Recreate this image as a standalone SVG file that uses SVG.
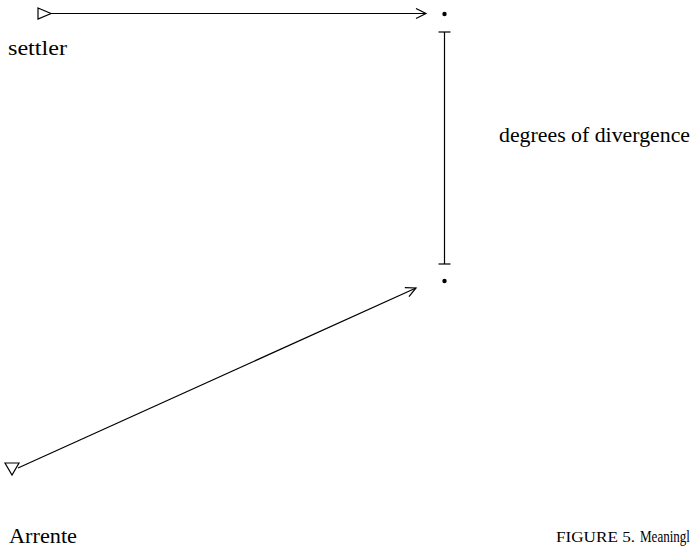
<svg xmlns="http://www.w3.org/2000/svg" width="695" height="549" viewBox="0 0 695 549">
<defs>
<style>
.ln{stroke:#000;stroke-width:1.2;fill:none}
.tri{stroke:#000;stroke-width:1.2;fill:#fff}
.t{font-family:"Liberation Serif","DejaVu Serif",serif;font-size:22px;fill:#000}
.sc{font-size:15px}
.cap{font-size:17px}
</style>
<marker id="arr" markerWidth="14" markerHeight="14" refX="11" refY="6" orient="auto" markerUnits="userSpaceOnUse">
<path d="M1,1 L11,6 L1,11" fill="none" stroke="#000" stroke-width="1.2"/>
</marker>
</defs>
<rect width="695" height="549" fill="#fff"/>
<g id="connectors">
<line class="ln" x1="51" y1="13.5" x2="426" y2="13.5" marker-end="url(#arr)"/>
<line class="ln" x1="18" y1="468" x2="416" y2="288" marker-end="url(#arr)"/>
<line class="ln" x1="444.5" y1="32" x2="444.5" y2="264"/>
<line class="ln" x1="438.5" y1="32" x2="450.5" y2="32"/>
<line class="ln" x1="438.5" y1="264" x2="450.5" y2="264"/>
</g>
<g id="settler">
<polygon class="tri" points="38,8 51,13.5 38,19"/>
<text class="t" x="8" y="55" textLength="59" lengthAdjust="spacingAndGlyphs">settler</text>
</g>
<g id="arrente">
<polygon class="tri" points="5,463 19,463 12,475"/>
<text class="t" x="9" y="543" textLength="68" lengthAdjust="spacingAndGlyphs">Arrente</text>
</g>
<g id="top-point"><circle cx="444.5" cy="14" r="2.2" fill="#000"/></g>
<g id="bottom-point"><circle cx="444.5" cy="281" r="2.2" fill="#000"/></g>
<g id="divergence"><text class="t" x="499" y="142" textLength="191" lengthAdjust="spacingAndGlyphs">degrees of divergence</text></g>
<g id="caption"><text class="t" y="542"><tspan class="sc" x="556" textLength="79" lengthAdjust="spacingAndGlyphs">FIGURE 5.</tspan><tspan class="cap" x="640" textLength="50" lengthAdjust="spacingAndGlyphs">Meaningl</tspan></text></g>
</svg>
